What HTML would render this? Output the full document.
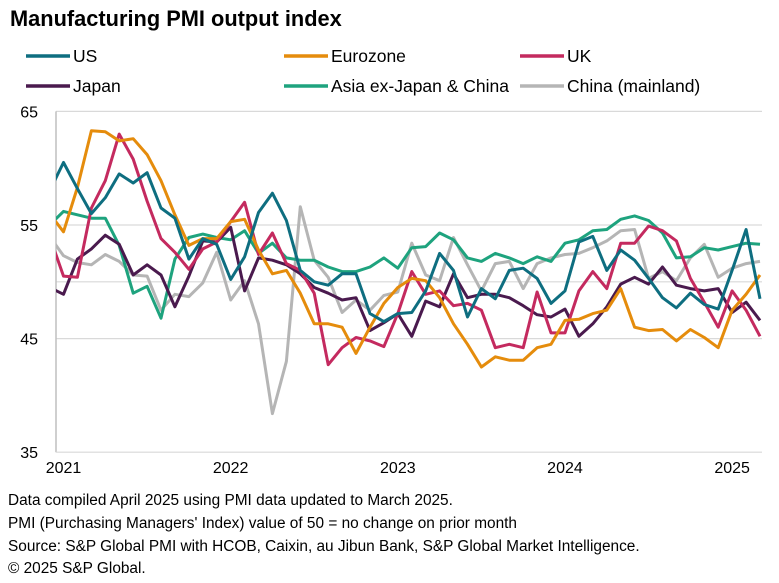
<!DOCTYPE html>
<html><head><meta charset="utf-8">
<style>
body{margin:0;background:#fff;font-family:"Liberation Sans",Arial,sans-serif;}
svg{display:block}
text{font-family:"Liberation Sans",Arial,sans-serif;fill:#000}
</style></head>
<body>
<svg id="chart" width="779" height="583" viewBox="0 0 779 583">
<text x="10" y="26" font-size="21.8" font-weight="bold">Manufacturing PMI output index</text>
<g id="legend"></g>
<g id="grid"></g>
<g id="yaxis"></g>
<g id="xaxis"></g>
<defs><clipPath id="pc"><rect x="56" y="100" width="720" height="360"/></clipPath></defs>
<g id="series" clip-path="url(#pc)"></g>
<g font-size="15.4">
<text x="8" y="505">Data compiled April 2025 using PMI data updated to March 2025.</text>
<text x="8" y="528">PMI (Purchasing Managers' Index) value of 50 = no change on prior month</text>
<text x="8" y="551">Source: S&amp;P Global PMI with HCOB, Caixin, au Jibun Bank, S&amp;P Global Market Intelligence.</text>
<text x="8" y="573">© 2025 S&amp;P Global.</text>
</g>
</svg>
<script>
// first value = Dec 2020, then Jan 2021 .. Mar 2025
const seriesNames = ["US","Eurozone","UK","Japan","Asia ex-Japan & China","China (mainland)"];
const usValues = [58,60.5,58.2,56,57.4,59.5,58.7,59.6,56.5,55.6,52,53.8,53.3,50.2,52.2,56.1,57.8,55.4,51,50,49.7,50.7,50.7,47.2,46.5,47.2,47.3,49.2,52.5,51,46.9,49.4,48.5,51,51.2,50.3,48.1,49.2,53.5,54,51,52.8,51.9,50.3,48.6,47.7,49,48,47.6,51,54.6,48.5];
const euroValues = [56,54.4,58.3,63.3,63.2,62.4,62.6,61.2,58.9,55.9,53.2,53.8,53.8,55.3,55.5,52.8,50.7,51,49,46.3,46.3,46,43.7,46,48.1,49.5,50.3,50.1,48.6,46.3,44.5,42.5,43.4,43.1,43.1,44.2,44.5,46.6,46.7,47.2,47.5,49.4,46,45.7,45.8,44.8,45.8,45.1,44.2,47.5,48.9,50.6];
const ukValues = [54,50.5,50.4,56.5,58.9,63,60.8,57.1,53.8,52.6,51.1,52.9,53.5,55.3,57,52.4,54.3,51.6,51,49,42.7,44.2,45.1,44.8,44.3,47.2,50.9,48.9,49.2,47.9,48.1,47.5,44.2,44.5,44.2,49.1,45.5,45.5,49.2,50.9,49.4,53.4,53.4,54.9,54.5,53.6,50.3,48.2,46,49.2,47.5,45.2];
const japanValues = [49.5,48.9,52,52.9,54.1,53.3,50.6,51.5,50.6,47.8,50.5,53.6,53.5,54.8,49.2,52.1,51.9,51.5,50.7,49.5,49,48.4,48.6,45.7,46.4,47.2,45.2,48.3,47.8,50.7,48.6,48.9,48.9,48.6,47.9,47.1,46.9,47.6,45.2,46.3,47.8,49.8,50.4,49.8,51.3,49.7,49.4,49.2,49.4,47.3,48.2,46.6];
const asiaValues = [55,56.2,55.9,55.6,55.6,53.2,49,49.6,46.8,52,53.9,54.2,53.9,53.7,54.5,52.5,53.4,52.1,51.9,51.9,51.3,50.9,50.9,51.3,52.1,51.2,53,53.1,54.3,53.7,52.1,51.8,52.5,52.1,51.6,52.2,51.8,53.4,53.7,54.5,54.6,55.5,55.8,55.4,54.3,52.1,52.2,53,52.8,53.1,53.4,53.3];
const chinaValues = [54,52.3,51.7,51.5,52.4,51.8,50.6,50.5,47.5,48.9,48.7,49.9,52.6,48.4,50.1,46.3,38.4,43,56.6,51.9,50.4,47.3,48.4,47.5,48.8,49.1,53.4,50.6,50.1,53.9,51.5,49.2,51.6,51.8,49.4,51.6,52.1,52.4,52.5,53,53.6,54.5,54.6,50.3,50.9,50.1,52.1,53.3,50.4,51.2,51.6,51.8];
const yTicks = [65,55,45,35];
const gridValues = [65,55,50,45];
const yearLabels = ["2021","2022","2023","2024","2025"];

const NS="http://www.w3.org/2000/svg";
const svg=document.getElementById('chart');
function mk(tag,attrs,parent){const e=document.createElementNS(NS,tag);for(const k in attrs)e.setAttribute(k,attrs[k]);parent.appendChild(e);return e;}
function xPos(i){return 63.5+13.93*(i-1);}
function yPos(v){return 225+(55-v)*11.36;}

const grid=document.getElementById('grid');
gridValues.forEach(v=>{
  const l=mk('line',{x1:56,x2:762,y1:yPos(v),y2:yPos(v),stroke:'#d9d9d9','stroke-width':1.2},grid);
  
  
});
const ya=document.getElementById('yaxis');
const yl=mk('line',{x1:56,x2:56,y1:yPos(65),y2:yPos(35),stroke:'#bfbfbf','stroke-width':1.5},ya);


yTicks.forEach(v=>{
  const t=mk('text',{x:38,y:yPos(v)+6,'text-anchor':'end','font-size':16},ya);
  t.textContent=v;
  
  
});
const xa=document.getElementById('xaxis');
const xl=mk('line',{x1:56,x2:762,y1:yPos(35),y2:yPos(35),stroke:'#d9d9d9','stroke-width':1.2},xa);


yearLabels.forEach((y,k)=>{
  let cx=xPos(1+12*k);
  if(cx>740)cx=741;
  const t=mk('text',{x:cx,y:473,'text-anchor':'middle','font-size':16},xa);
  t.textContent=y;
  
  
});

const colors=['#0e6e80','#e58c0c','#c42a5f','#4a1a4e','#1ea37e','#b5b5b5'];
const data=[usValues,euroValues,ukValues,japanValues,asiaValues,chinaValues];
const sg=document.getElementById('series');
[5,4,3,2,1,0].forEach(s=>{
  const pts=data[s].map((v,i)=>xPos(i).toFixed(1)+','+yPos(v).toFixed(1)).join(' ');
  const p=mk('polyline',{points:pts,fill:'none',stroke:colors[s],'stroke-width':3,'stroke-linejoin':'round'},sg);
  
  
});

const lg=document.getElementById('legend');
const lpos=[[26,56],[284,56],[520,56],[26,86],[284,86],[520,86]];
seriesNames.forEach((n,s)=>{
  const [x,y]=lpos[s];
  const g=mk('g',{},lg);
  
  
  mk('line',{x1:x,x2:x+44,y1:y,y2:y,stroke:colors[s],'stroke-width':3.5},g);
  const t=mk('text',{x:x+47,y:y+6,'font-size':17.5},g);
  t.textContent=n;
});
</script>
</body></html>
